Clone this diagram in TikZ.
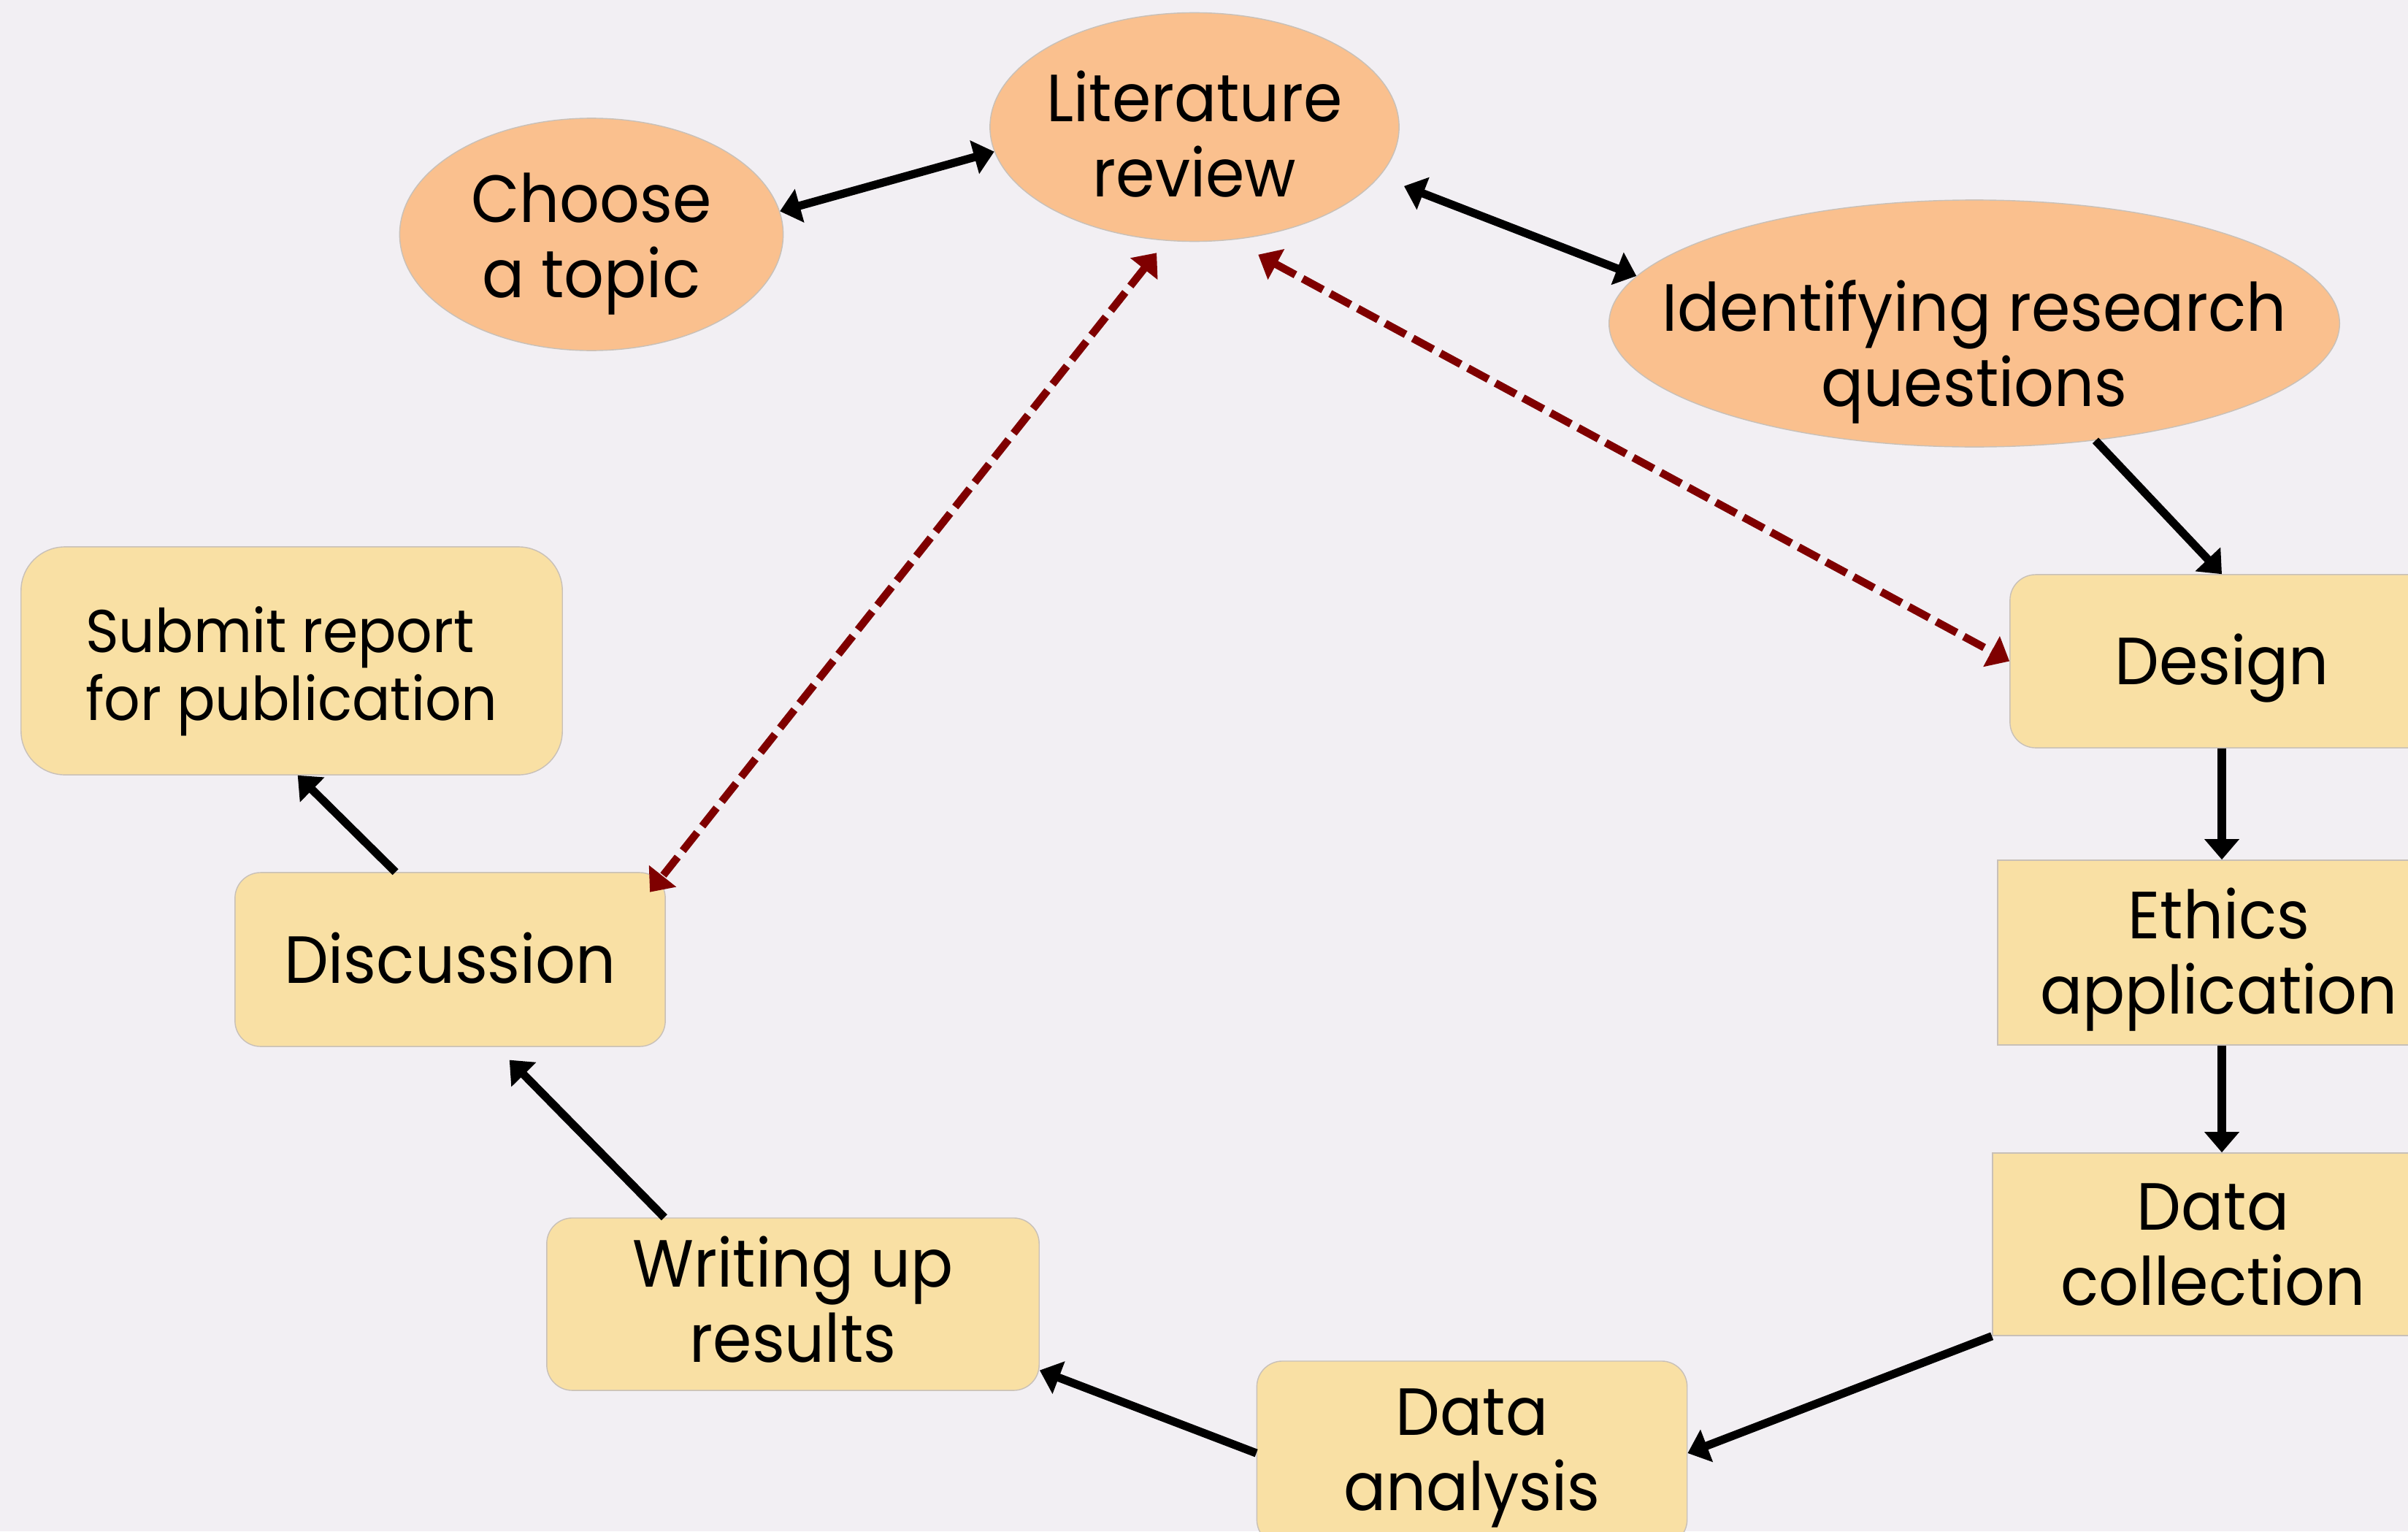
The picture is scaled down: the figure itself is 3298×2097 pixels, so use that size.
\documentclass[tikz,border=0pt]{standalone}
\usepackage{fontspec}
\setmainfont{Poppins}[FakeStretch=0.94]
\usetikzlibrary{arrows.meta,shapes.geometric}
\definecolor{bgc}{HTML}{F2EFF3}
\definecolor{ovalc}{HTML}{FAC08E}
\definecolor{boxc}{HTML}{F9E0A4}
\definecolor{dashc}{HTML}{7F0000}
\definecolor{edgec}{HTML}{C8C0B8}
\newcommand\mainfs{\fontsize{26}{29.3}\selectfont}
\newcommand\subfs{\fontsize{23.5}{26.4}\selectfont}
\begin{document}
\begin{tikzpicture}[x=0.01cm,y=-0.01cm,
  oval/.style={ellipse, fill=ovalc, draw=edgec, line width=0.4pt, inner xsep=-3cm, inner ysep=-1.5cm, align=center, font=\mainfs, text height=47.5pt, text depth=0pt},
  box/.style={rectangle, rounded corners=0.35cm, fill=boxc, draw=edgec, line width=0.4pt, inner sep=0pt, align=center, font=\mainfs, text height=47.5pt, text depth=0pt},
  one/.style={text height=18.2pt},
  sqbox/.style={box, sharp corners},
  tipp/.tip={Triangle[length=0.28cm,width=0.46cm]},
  arr/.style={line width=3.2pt, -tipp},
  darr/.style={line width=3.2pt, tipp-tipp},
  dsh/.style={line width=3pt, draw=dashc, dash pattern=on 9pt off 3.2pt, tipp-tipp}]
\fill[bgc] (0,0) rectangle (3298,2097);
\useasboundingbox (0,0) rectangle (3298,2097);
\node[oval, minimum width=5.25cm, minimum height=3.18cm, text height=49.2pt] (topic) at (810,321) {Choose\\a topic};
\node[oval, minimum width=5.6cm, minimum height=3.13cm, text height=54.3pt] (lit) at (1636,174) {Literature\\review};
\node[oval, minimum width=10cm, minimum height=3.38cm, text height=64.5pt] (idq) at (2704,443) {Identifying research\\questions};
\node[box, one, minimum width=5.8cm, minimum height=2.37cm] (design) at (3043,905.5) {Design};
\node[sqbox, minimum width=6.06cm, minimum height=2.53cm] (ethics) at (3039,1304.5) {Ethics\\application};
\node[sqbox, minimum width=6.04cm, minimum height=2.5cm] (coll) at (3031,1704) {Data\\collection};
\node[box, minimum width=5.89cm, minimum height=2.52cm, text depth=3.1pt] (anal) at (2016,1990) {Data\\analysis};
\node[box, minimum width=6.74cm, minimum height=2.36cm, text depth=2.3pt] (write) at (1086,1786) {Writing up\\results};
\node[box, one, minimum width=5.89cm, minimum height=2.38cm] (disc) at (616.5,1314) {Discussion};
\node[box, minimum width=7.41cm, minimum height=3.12cm, rounded corners=0.6cm, align=left, font=\subfs, text height=46.25pt] (submit) at (399.5,905) {Submit report\\for publication};
\draw[darr] (topic.7) -- (lit.187);
\draw[darr, shorten <=0.36cm] (lit.-15) -- (idq.172);
\draw[arr] (idq.-44) -- (design.north);
\draw[arr] (design.south) -- (design.south |- ethics.north);
\draw[arr] (design.south |- ethics.south) -- (design.south |- coll.north);
\draw[arr] (coll.south west) -- (anal.east);
\draw[arr] (anal.west) -- (write.-15);
\draw[arr, shorten >=0.25cm] (write.146) -- (disc.-62);
\draw[arr] (disc.122) -- (submit.-87);
\draw[dsh, shorten <=0.42cm] (lit.-72) -- (design.west);
\draw[dsh, shorten <=0.21cm, shorten >=-0.35cm] (lit.-104) -- (disc.north east);
\end{tikzpicture}
\end{document}
